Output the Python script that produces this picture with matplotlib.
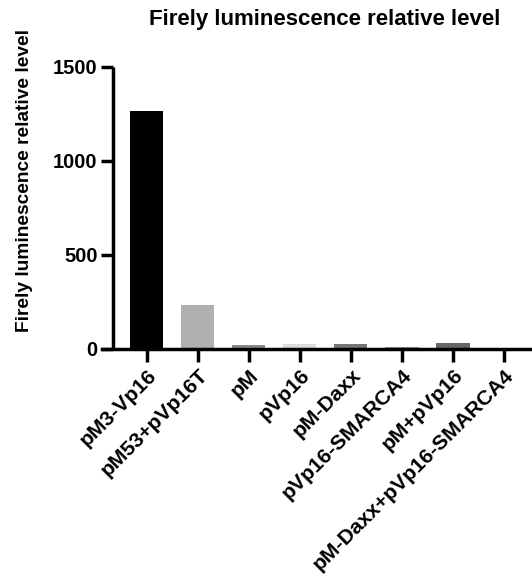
from matplotlib import pyplot as plt
import numpy as np

grupos = ['pM3-Vp16', 'pM53+pVp16T', 'pM', 'pVp16', 'pM-Daxx',
          'pVp16-SMARCA4', 'pM+pVp16', 'pM-Daxx+pVp16-SMARCA4']
valores = [1265, 235, 21, 26, 27, 12, 32, 1]
colores = ['#000000', '#b0b0b0', '#888888', '#dddddd', '#777777',
           '#999999', '#666666', '#999999']

plt.rcParams['font.family'] = ['Liberation Sans', 'DejaVu Sans']
plt.rcParams['font.weight'] = 'bold'

fig = plt.figure(figsize=(5.32, 5.81), dpi=100)
ax = fig.add_axes([102 / 532, 1 - 349 / 581, (532 - 102) / 532, (349 - 67) / 581])

x = np.arange(len(grupos))
ax.bar(x, valores, width=0.65, color=colores)

ax.set_xlim(-0.88, 7.55)
ax.set_ylim(0, 1500)
ax.set_yticks([0, 500, 1000, 1500])

ax.spines['top'].set_visible(False)
ax.spines['right'].set_visible(False)
ax.spines['left'].set_position(('data', -0.667))
ax.spines['left'].set_linewidth(2.5)
ax.spines['bottom'].set_linewidth(2.5)
ax.spines['left'].set_capstyle('butt')

ax.tick_params(axis='both', width=2.5, length=9, labelsize=14.5)
ax.tick_params(axis='y', pad=2)
ax.tick_params(axis='x', labelsize=15.2, pad=3)
ax.set_xticks(x)
ax.set_xticklabels(grupos, rotation=45, ha='right', rotation_mode='anchor',
                   fontweight='bold')
for t in ax.get_yticklabels():
    t.set_fontweight('bold')

fig.text(25 / 532, 1 - 181 / 581, 'Firely luminescence relative level', fontsize=13.8,
         fontweight='bold', ha='center', va='center', rotation=90)
fig.text(324.5 / 532, 1 - 20 / 581, 'Firely luminescence relative level', fontsize=16,
         fontweight='bold', ha='center', va='center')

fig.savefig('out.png', dpi=100)
